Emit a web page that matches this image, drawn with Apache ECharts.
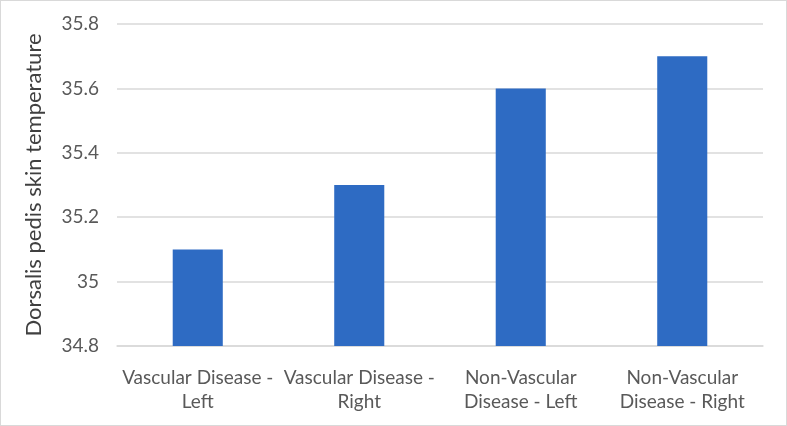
<!DOCTYPE html>
<html><head><meta charset="utf-8">
<script src="https://cdn.jsdelivr.net/npm/echarts@6/dist/echarts.min.js"></script>
<style>html,body{margin:0;padding:0;background:#fff}#c{width:787px;height:426px;box-sizing:border-box;border:1px solid #d9d9d9}</style>
</head><body><div id="c"></div>
<script>
const categories = ["Vascular Disease -\nLeft", "Vascular Disease -\nRight", "Non-Vascular\nDisease - Left", "Non-Vascular\nDisease - Right"];
const values = [35.1, 35.3, 35.6, 35.7];
const yTitle = "Dorsalis pedis skin temperature";
const chart = echarts.init(document.getElementById('c'));
chart.setOption({
  animation: false,
  grid: {left: 116, right: 23, top: 23, bottom: 79, containLabel: false},
  xAxis: {
    type: 'category', data: categories,
    axisLine: {lineStyle: {color: '#d9d9d9', width: 1.5}},
    axisTick: {show: false},
    axisLabel: {color: '#595959', fontFamily: 'Lato', fontSize: 19, lineHeight: 24, margin: 20, interval: 0}
  },
  yAxis: {
    type: 'value', min: 34.8, max: 35.8, interval: 0.2,
    name: yTitle, nameLocation: 'middle', nameGap: 72, nameRotate: 90,
    nameTextStyle: {color: '#404040', fontFamily: 'Lato', fontSize: 22},
    axisLine: {show: false}, axisTick: {show: false},
    axisLabel: {color: '#595959', fontFamily: 'Lato', fontSize: 19, margin: 18,
      formatter: v => String(Math.round(v * 10) / 10)},
    splitLine: {lineStyle: {color: '#d9d9d9', width: 1.5}}
  },
  series: [{type: 'bar', data: values, barWidth: '31%', itemStyle: {color: '#2E6BC3'}}]
});
</script></body></html>
